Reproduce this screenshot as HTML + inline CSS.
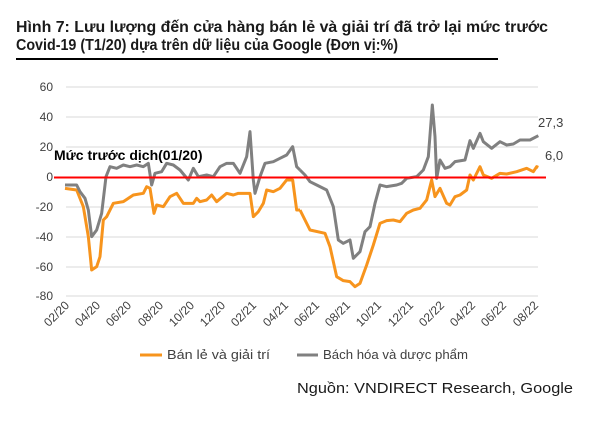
<!DOCTYPE html>
<html><head><meta charset="utf-8"><style>
html,body{margin:0;padding:0;background:#fff;}
svg{display:block;font-family:"Liberation Sans",sans-serif;}
</style></head><body>
<svg width="603" height="421" viewBox="0 0 603 421" xmlns="http://www.w3.org/2000/svg">
<text x="16" y="32" font-size="16" font-weight="bold" fill="#1a1a1a" textLength="532" lengthAdjust="spacingAndGlyphs">Hình 7: Lưu lượng đến cửa hàng bán lẻ và giải trí đã trở lại mức trước</text>
<text x="16" y="50" font-size="16" font-weight="bold" fill="#1a1a1a" textLength="382" lengthAdjust="spacingAndGlyphs">Covid-19 (T1/20) dựa trên dữ liệu của Google (Đơn vị:%)</text>
<rect x="16" y="58" width="482" height="2" fill="#000"/>
<g stroke="#d9d9d9" stroke-width="1">
<line x1="66" x2="538" y1="87" y2="87"/><line x1="66" x2="538" y1="117" y2="117"/>
<line x1="66" x2="538" y1="147" y2="147"/><line x1="66" x2="538" y1="207" y2="207"/>
<line x1="66" x2="538" y1="237" y2="237"/><line x1="66" x2="538" y1="267" y2="267"/>
<line x1="66" x2="538" y1="296" y2="296"/>
</g>
<g font-size="12" fill="#404040" text-anchor="end">
<text x="53" y="91">60</text><text x="53" y="121">40</text><text x="53" y="151">20</text>
<text x="53" y="181">0</text><text x="53" y="211">-20</text><text x="53" y="241">-40</text>
<text x="53" y="271">-60</text><text x="53" y="300">-80</text>
</g>
<g font-size="12" fill="#404040" text-anchor="end">
<text transform="translate(70,306) rotate(-45)">02/20</text>
<text transform="translate(101,306) rotate(-45)">04/20</text>
<text transform="translate(132,306) rotate(-45)">06/20</text>
<text transform="translate(164,306) rotate(-45)">08/20</text>
<text transform="translate(195,306) rotate(-45)">10/20</text>
<text transform="translate(226,306) rotate(-45)">12/20</text>
<text transform="translate(257,306) rotate(-45)">02/21</text>
<text transform="translate(289,306) rotate(-45)">04/21</text>
<text transform="translate(320,306) rotate(-45)">06/21</text>
<text transform="translate(351,306) rotate(-45)">08/21</text>
<text transform="translate(382,306) rotate(-45)">10/21</text>
<text transform="translate(414,306) rotate(-45)">12/21</text>
<text transform="translate(445,306) rotate(-45)">02/22</text>
<text transform="translate(476,306) rotate(-45)">04/22</text>
<text transform="translate(507,306) rotate(-45)">06/22</text>
<text transform="translate(539,306) rotate(-45)">08/22</text>
</g>
<g fill="none" stroke-width="3" stroke-linejoin="round">
<g transform="translate(0,70) scale(0.33333)">
<polyline vector-effect="non-scaling-stroke" stroke="#f7941d" points="195,355 230,360 250,410 265,500 275,600 290,590 300,560 310,450 320,440 340,400 370,395 400,375 430,370 440,350 450,355 462,430 470,405 490,410 510,380 530,370 550,400 580,400 590,385 600,395 620,390 635,375 650,395 680,370 700,375 715,370 730,370 750,370 760,440 775,425 790,400 800,360 820,365 840,355 860,330 870,330 878,330 890,420 900,420"/>
<polyline vector-effect="non-scaling-stroke" stroke="#808080" points="195,345 230,345 240,365 255,385 265,420 275,500 290,480 305,430 318,320 330,290 350,295 370,285 390,290 410,285 430,290 445,280 455,345 465,310 485,305 500,280 520,285 540,300 565,330 580,295 595,320 620,315 640,320 660,290 680,280 700,280 720,310 740,260 750,185 760,330 765,370 780,320 795,280 820,275 840,265 860,255 878,230 890,290 900,300"/>
</g>
<g transform="translate(300,70) scale(0.33333)">
<polyline vector-effect="non-scaling-stroke" stroke="#f7941d" points="0,420 30,480 75,490 90,530 110,620 130,632 150,635 165,650 180,640 200,585 220,525 240,460 260,452 280,450 300,455 320,430 340,420 360,415 380,390 395,330 405,380 420,355 440,400 450,405 465,380 480,375 500,360 510,315 520,330 540,290 550,315 575,325 600,310 620,312 650,305 680,295 700,305 710,290 715,292"/>
<polyline vector-effect="non-scaling-stroke" stroke="#808080" points="0,300 15,315 30,335 50,345 80,360 100,410 115,510 130,520 150,510 160,565 180,545 195,485 210,470 225,400 240,345 260,350 290,345 305,340 320,325 350,320 370,300 385,260 397,105 405,200 410,325 420,270 435,295 450,290 465,275 495,270 510,212 520,235 540,190 550,215 575,235 600,215 620,225 640,222 660,210 690,210 715,197"/>
</g>
</g>
<line x1="54" x2="546" y1="177.5" y2="177.5" stroke="#ff0000" stroke-width="2"/>
<text x="54" y="160" font-size="14" font-weight="bold" fill="#000">Mức trước dịch(01/20)</text>
<text x="538" y="127" font-size="13" fill="#404040">27,3</text>
<text x="545" y="160" font-size="13" fill="#404040">6,0</text>
<line x1="140" x2="162" y1="355" y2="355" stroke="#f7941d" stroke-width="3"/>
<text x="167" y="359" font-size="12.5" fill="#404040" textLength="103" lengthAdjust="spacingAndGlyphs">Bán lẻ và giải trí</text>
<line x1="297" x2="318" y1="355" y2="355" stroke="#808080" stroke-width="3"/>
<text x="323" y="359" font-size="12.5" fill="#404040" textLength="145" lengthAdjust="spacingAndGlyphs">Bách hóa và dược phẩm</text>
<text x="297" y="393" font-size="15" fill="#1a1a1a" textLength="276" lengthAdjust="spacingAndGlyphs">Nguồn: VNDIRECT   Research, Google</text>
</svg>
</body></html>
